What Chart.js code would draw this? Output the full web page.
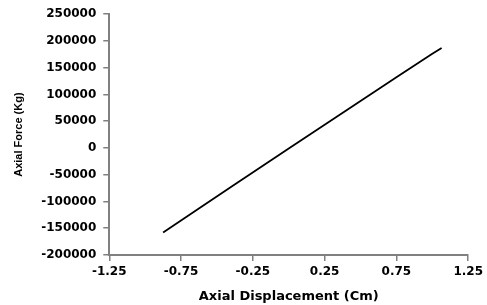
<!DOCTYPE html>
<html>
<head>
<meta charset="utf-8">
<script src="https://cdn.jsdelivr.net/npm/chart.js@4/dist/chart.umd.min.js"></script>
<style>
  html, body { margin: 0; padding: 0; background: #fff; }
  #wrap { width: 487px; height: 305px; }
</style>
</head>
<body>
<div id="wrap"><canvas id="chart" width="487" height="305"></canvas></div>
<script>
// values
var displacement = [-0.875, -0.6, -0.4, 0, 0.4, 0.75, 1.0, 1.065];
var force = [-158000, -108500, -72500, -1000, 70000, 132000, 176000, 187000];

var xTitle = 'Axial Displacement (Cm)';
var yTitle = 'Axial Force (Kg)';

var points = displacement.map(function (d, i) {
  return { x: d, y: force[i] };
});

var tickFont = { family: 'DejaVu Sans', size: 12, weight: 'bold' };

new Chart(document.getElementById('chart'), {
  type: 'scatter',
  data: {
    datasets: [{
      data: points,
      showLine: true,
      borderColor: '#000',
      borderWidth: 1.8,
      pointRadius: 0,
      tension: 0
    }]
  },
  options: {
    responsive: false,
    animation: false,
    layout: { padding: { left: 8, right: 4, top: 14, bottom: 1 } },
    plugins: { legend: { display: false }, tooltip: { enabled: false } },
    scales: {
      x: {
        type: 'linear',
        min: -1.25,
        max: 1.25,
        ticks: {
          stepSize: 0.5,
          color: '#000',
          font: tickFont,
          padding: 4,
          maxRotation: 0,
          callback: function (v) { return v.toFixed(2); }
        },
        grid: { drawOnChartArea: false, drawTicks: true, tickLength: 6, color: '#808080', lineWidth: 1.5 },
        border: { color: '#808080', width: 2 },
        title: { display: true, text: xTitle, color: '#000', font: { family: 'DejaVu Sans', size: 13, weight: 'bold' }, padding: { top: 5, bottom: 0 } }
      },
      y: {
        type: 'linear',
        min: -200000,
        max: 250000,
        ticks: {
          stepSize: 50000,
          color: '#000',
          font: tickFont,
          padding: 7,
          callback: function (v) { return String(v); }
        },
        grid: { drawOnChartArea: false, drawTicks: true, tickLength: 6, color: '#808080', lineWidth: 1.5 },
        border: { color: '#808080', width: 2 },
        title: { display: true, text: yTitle, color: '#000', font: { family: 'Liberation Sans', size: 11, weight: 'bold' }, padding: { top: 4, bottom: 9 } }
      }
    }
  }
});
</script>
</body>
</html>
